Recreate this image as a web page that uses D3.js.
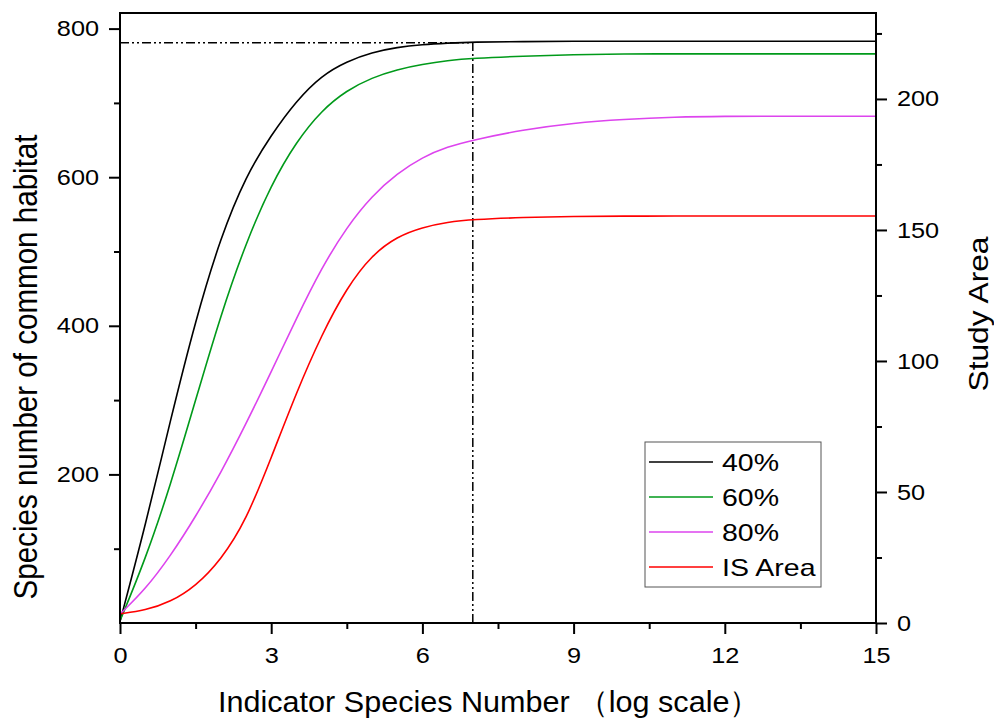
<!DOCTYPE html>
<html>
<head>
<meta charset="utf-8">
<script src="https://cdn.jsdelivr.net/npm/d3@7"></script>
<style>
  body { margin: 0; background: #fff; }
  svg { display: block; font-family: "Liberation Sans", Arial, sans-serif; }
</style>
</head>
<body>
<svg id="chart" width="994" height="719"></svg>
<script>
// values
const xs   = [0, 0.5, 1, 1.5, 2, 2.5, 3, 3.5, 4, 4.5, 5, 5.5, 6, 6.5, 7, 8, 9, 10, 11, 12, 13, 14, 15];
const s40  = [2, 130, 273, 408, 520, 602, 657, 703, 737, 756, 768, 775, 778.5, 780.5, 782, 782.5, 783, 783, 783, 783, 783, 783, 783];
const s60  = [3, 85, 185, 300, 415, 512, 590, 648, 690, 717, 734, 745, 752, 757, 760, 763, 765, 766, 766, 766, 766, 766, 766];
const s80  = [12, 45, 90, 143, 202, 268, 338, 410, 478, 533, 575, 605, 627, 641, 650, 664, 673, 678, 681, 682, 682, 682, 682];
const area = [3.5, 4.8, 8, 14, 24, 39, 63, 88, 110, 128, 140.5, 147.5, 151, 153, 154, 154.8, 155.2, 155.3, 155.3, 155.3, 155.3, 155.3, 155.3];

const xTicks = [0, 3, 6, 9, 12, 15];
const xMinor = [1.5, 4.5, 7.5, 10.5, 13.5];
const yLeftTicks = [200, 400, 600, 800];
const yLeftMinor = [100, 300, 500, 700];
const yRightTicks = [0, 50, 100, 150, 200];
const yRightMinor = [25, 75, 125, 175, 225];
const refX = 7, refY = 781;

const legendNames = ['40%', '60%', '80%', 'IS Area'];
const colors = ['#000000', '#009a1a', '#dd44ee', '#ff0000'];

const W = 994, H = 719;
const margin = {left: 120, top: 13, right: 118, bottom: 96};
const sx = 1.15; // the reference text is a bit wider than Arial
const svg = d3.select('#chart');

const x = d3.scaleLinear().domain([0, 15]).range([margin.left, W - margin.right]);
const yL = d3.scaleLinear().domain([0, 821]).range([H - margin.bottom, margin.top]);
const yR = d3.scaleLinear().domain([0, 232.8]).range([H - margin.bottom, margin.top]);

const bottomY = H - margin.bottom;

// reference lines (dash dot dot)
const dash = '9,3,2,3,2,3';
svg.append('line')
  .attr('x1', x(0)).attr('x2', x(refX))
  .attr('y1', yL(refY)).attr('y2', yL(refY))
  .attr('stroke', '#000').attr('stroke-width', 1.5).attr('stroke-dasharray', dash);
svg.append('line')
  .attr('x1', x(refX)).attr('x2', x(refX))
  .attr('y1', bottomY).attr('y2', yL(refY))
  .attr('stroke', '#000').attr('stroke-width', 1.5).attr('stroke-dasharray', dash);

// curves
function addCurve (vals, yScale, color) {
  const line = d3.line()
    .x((d, i) => x(xs[i]))
    .y(d => yScale(d))
    .curve(d3.curveBasis);
  svg.append('path')
    .datum(vals)
    .attr('fill', 'none')
    .attr('stroke', color)
    .attr('stroke-width', 1.6)
    .attr('d', line);
}
addCurve(s40, yL, colors[0]);
addCurve(s60, yL, colors[1]);
addCurve(s80, yL, colors[2]);
addCurve(area, yR, colors[3]);

// frame
svg.append('rect')
  .attr('x', margin.left).attr('y', margin.top)
  .attr('width', W - margin.left - margin.right)
  .attr('height', H - margin.top - margin.bottom)
  .attr('fill', 'none').attr('stroke', '#000').attr('stroke-width', 2);

function styleAxis (g) {
  g.select('.domain').remove();
  g.selectAll('.tick line').attr('stroke', '#000').attr('stroke-width', 2);
  g.selectAll('.tick text')
    .attr('fill', '#000')
    .style('font-size', '22px')
    .attr('x', function () { return (+d3.select(this).attr('x') || 0) / sx; })
    .attr('transform', 'scale(' + sx + ',1)');
}

function addAxis (axis, tx, ty) {
  svg.append('g')
    .attr('transform', 'translate(' + tx + ',' + ty + ')')
    .call(axis)
    .call(styleAxis);
}

addAxis(d3.axisBottom(x).tickValues(xTicks).tickSize(11).tickPadding(13), 0, bottomY);
addAxis(d3.axisBottom(x).tickValues(xMinor).tickSize(6).tickFormat(''), 0, bottomY);
addAxis(d3.axisLeft(yL).tickValues(yLeftTicks).tickSize(11).tickPadding(10), margin.left, 0);
addAxis(d3.axisLeft(yL).tickValues(yLeftMinor).tickSize(6).tickFormat(''), margin.left, 0);
addAxis(d3.axisRight(yR).tickValues(yRightTicks).tickSize(11).tickPadding(10), W - margin.right, 0);
addAxis(d3.axisRight(yR).tickValues(yRightMinor).tickSize(6).tickFormat(''), W - margin.right, 0);

// axis titles
svg.append('text')
  .attr('x', 218).attr('y', 712)
  .attr('textLength', 542).attr('lengthAdjust', 'spacingAndGlyphs')
  .style('font-size', '30px')
  .text('Indicator Species Number （log scale）');
svg.append('text')
  .attr('transform', 'translate(37,367) rotate(-90) scale(1,1.2)')
  .attr('text-anchor', 'middle')
  .attr('textLength', 465).attr('lengthAdjust', 'spacingAndGlyphs')
  .style('font-size', '28px')
  .text('Species number of common habitat');
svg.append('text')
  .attr('transform', 'translate(988,314) rotate(-90)')
  .attr('text-anchor', 'middle')
  .attr('textLength', 155).attr('lengthAdjust', 'spacingAndGlyphs')
  .style('font-size', '28px')
  .text('Study Area');

// legend
const lg = svg.append('g').attr('transform', 'translate(645,442)');
lg.append('rect')
  .attr('width', 176).attr('height', 145)
  .attr('fill', '#fff').attr('stroke', '#555').attr('stroke-width', 1);
legendNames.forEach((name, i) => {
  const yy = 20 + i * 35;
  lg.append('line')
    .attr('x1', 4).attr('x2', 68).attr('y1', yy).attr('y2', yy)
    .attr('stroke', colors[i]).attr('stroke-width', 1.6);
  lg.append('text')
    .attr('transform', 'translate(77,' + (yy + 8.5) + ') scale(1.24,1)')
    .style('font-size', '23px')
    .text(name);
});
</script>
</body>
</html>
